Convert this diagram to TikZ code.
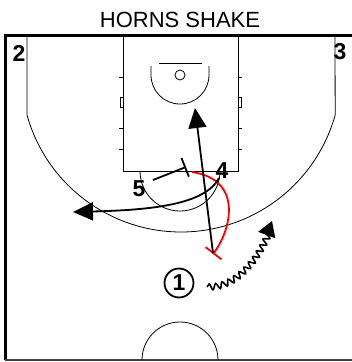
\documentclass[tikz,border=0pt]{standalone}
\usepackage{fontspec}
\setmainfont{Liberation Sans}
\usetikzlibrary{arrows.meta,decorations.pathmorphing}
\definecolor{screenred}{HTML}{ff0000}
\definecolor{baseline}{HTML}{404040}

\begin{document}
\begin{tikzpicture}[x=1pt, y=-1pt,
    courtline/.style={draw=black, line width=0.8pt},
    border/.style={draw=black, line width=3pt},
    player/.style={font=\fontsize{23}{24}\selectfont\bfseries, inner sep=0pt},
    ballhandler/.style={player, circle, draw, line width=1.8pt,
                        minimum size=29pt},
    cut/.style={draw, line width=1.8pt, -{Triangle[length=20pt,width=18pt]}},
    blackscreen/.style={draw, line width=1.8pt, -{Bar[width=20pt]}},
    redscreen/.style={draw=screenred, line width=1.8pt, -{Bar[width=20pt]}},
    dribble/.style={draw, line width=1.6pt, -{Triangle[length=15pt,width=18pt]},
                    decorate, decoration={snake, amplitude=3pt,
                    segment length=7pt, post length=9pt}},
]
\useasboundingbox (0,0) rectangle (352,362);

% court
\draw[border] (352,35) -- (5,35) -- (5,360);
\draw[line width=1.6pt, draw=baseline] (5,360) -- (352,360);
\draw[courtline] (27,35) -- (27,115) arc[start angle=164.4, end angle=15.6, radius=160] -- (335,35);
\draw[courtline] (123,35) -- (123,171) -- (238,171) -- (238,35);
\foreach \yy in {77,128,149} {
  \draw[courtline] (123,\yy) -- (119,\yy);
  \draw[courtline] (238,\yy) -- (242,\yy);
}
\draw[courtline] (123,97) rectangle (120,107);
\draw[courtline] (238,97) rectangle (241,107);
\draw[courtline] (159,63) -- (202,63);
\draw[courtline] (180,75) circle[radius=5];
\draw[courtline] (151,66) -- (151,75) arc[start angle=180, end angle=0, radius=29] -- (209,66);
\draw[courtline] (140,171) arc[start angle=180, end angle=0, radius=40];
\draw[courtline] (142,360) arc[start angle=180, end angle=360, radius=38];

\node[font=\fontsize{22}{24}\selectfont] (title) at (180,20) {HORNS SHAKE};

\node[player] (p2) at (19,53) {2};
\node[player] (p3) at (340,52) {3};
\node[player] (p4) at (222,171) {4};
\node[player] (p5) at (139,189) {5};
\node[ballhandler] (p1) at (179,283) {1};

\coordinate (s5a) at (153,180);
\coordinate (s5b) at (186,167);
\coordinate (cuta) at (213,253);
\coordinate (cutb) at (195,108);
\coordinate (popa) at (219,178);
\coordinate (popb) at (73,212);
\coordinate (s4a) at (192,172);
\coordinate (s4b) at (213,254);
\coordinate (driba) at (207,287);
\coordinate (dribb) at (272,221);

\draw[blackscreen] (s5a) -- (s5b);
\draw[redscreen] (s4a) .. controls (245,180) and (230,232) .. (s4b);
\draw[cut] (cuta) -- (cutb);
\draw[cut] (popa) .. controls (205,205) and (150,210) .. (popb);
\draw[dribble] (driba) .. controls (240,287) and (262,250) .. (dribb);

\end{tikzpicture}
\end{document}
